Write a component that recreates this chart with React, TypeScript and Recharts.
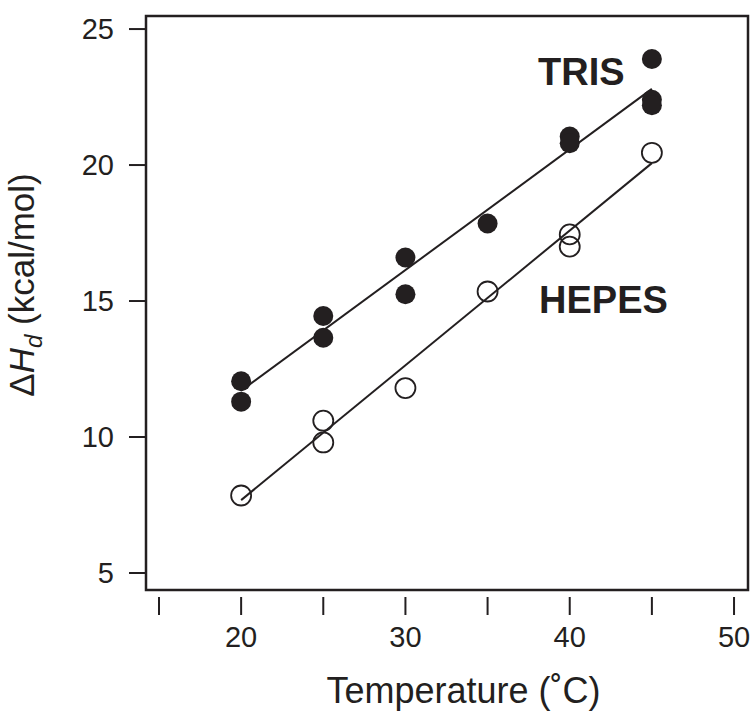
import React from 'react';
import { ComposedChart, Scatter, Line, XAxis, YAxis, ReferenceArea, ReferenceDot } from 'recharts';

const trisT = [20, 20, 25, 25, 30, 30, 35, 40, 40, 45, 45, 45];
const trisH = [12.05, 11.3, 14.45, 13.65, 16.6, 15.25, 17.85, 21.05, 20.8, 23.9, 22.4, 22.2];
const hepesT = [20, 25, 25, 30, 35, 40, 40, 45];
const hepesH = [7.85, 10.6, 9.8, 11.8, 15.35, 17.45, 17.0, 20.45];
const fitT = [20, 45];
const trisFitH = [11.7, 22.8];
const hepesFitH = [7.68, 20.07];
const xTicks = [15, 20, 25, 30, 35, 40, 45, 50];
const xTickLabels: Record<number, string> = { 20: '20', 30: '30', 40: '40', 50: '50' };
const yTicks = [5, 10, 15, 20, 25];

const INK = '#231f20';
const FONT = '"Liberation Sans", Arial, Helvetica, sans-serif';
const X_DOMAIN: [number, number] = [14.21, 50.85];
const Y_DOMAIN: [number, number] = [4.375, 25.48];

const trisData = trisT.map((t, i) => ({ x: t, y: trisH[i] }));
const hepesData = hepesT.map((t, i) => ({ x: t, y: hepesH[i] }));
const trisFit = fitT.map((t, i) => ({ x: t, y: trisFitH[i] }));
const hepesFit = fitT.map((t, i) => ({ x: t, y: hepesFitH[i] }));

function XTick(props: any) {
  const { x, y, payload } = props;
  const label = xTickLabels[payload.value] || '';
  return (
    <g>
      <line x1={x} x2={x} y1={y + 7} y2={y + 25} stroke={INK} strokeWidth={2} />
      {label && (
        <text x={x} y={y + 57} textAnchor="middle" fontSize={29} fontFamily={FONT} fill={INK}>
          {label}
        </text>
      )}
    </g>
  );
}

function FilledDot(props: any) {
  const { cx, cy } = props;
  return <circle cx={cx} cy={cy} r={10} fill={INK} />;
}

function OpenDot(props: any) {
  const { cx, cy } = props;
  return <circle cx={cx} cy={cy} r={10} fill="none" stroke={INK} strokeWidth={1.8} />;
}

function YLabel() {
  const cx = 34;
  const cy = 285;
  return (
    <text
      x={cx}
      y={cy}
      transform={`rotate(-90 ${cx} ${cy})`}
      textAnchor="middle"
      fontSize={35}
      fontFamily={FONT}
      fill={INK}
    >
      <tspan>Δ</tspan>
      <tspan fontStyle="italic">H</tspan>
      <tspan fontStyle="italic" fontSize={24} dy={8}>d</tspan>
      <tspan dy={-8}> (kcal/mol)</tspan>
    </text>
  );
}

function XLabel() {
  return (
    <text x={463.5} y={703} textAnchor="middle" fontSize={36} fontFamily={FONT} fill={INK}>
      Temperature (˚C)
    </text>
  );
}

export default function App() {
  return (
    <div style={{ position: 'absolute', left: 0, top: 0, width: 750, height: 712, background: '#fff' }}>
      <ComposedChart width={750} height={712} margin={{ top: 16, right: 2, bottom: 0, left: 0 }}>
        <XAxis
          type="number"
          dataKey="x"
          domain={X_DOMAIN}
          ticks={xTicks}
          allowDataOverflow
          height={122}
          axisLine={false}
          tickLine={false}
          tickSize={0}
          tickMargin={0}
          tick={<XTick />}
          interval={0}
          label={<XLabel />}
        />
        <YAxis
          type="number"
          dataKey="y"
          domain={Y_DOMAIN}
          ticks={yTicks}
          allowDataOverflow
          width={146}
          axisLine={false}
          tickSize={17}
          tickMargin={15}
          tickLine={{ stroke: INK, strokeWidth: 2 }}
          tick={{ fontSize: 29, fontFamily: FONT, fill: INK }}
          interval={0}
          label={<YLabel />}
        />
        <ReferenceArea
          x1={X_DOMAIN[0]}
          x2={X_DOMAIN[1]}
          y1={Y_DOMAIN[0]}
          y2={Y_DOMAIN[1]}
          fill="none"
          fillOpacity={0}
          stroke={INK}
          strokeWidth={2.5}
        />
        <Line data={trisFit} dataKey="y" stroke={INK} strokeWidth={2} dot={false} isAnimationActive={false} />
        <Line data={hepesFit} dataKey="y" stroke={INK} strokeWidth={2} dot={false} isAnimationActive={false} />
        <Scatter data={trisData} dataKey="y" shape={<FilledDot />} isAnimationActive={false} />
        <Scatter data={hepesData} dataKey="y" shape={<OpenDot />} isAnimationActive={false} />
        <ReferenceDot
          x={40.71}
          y={23.44}
          r={0}
          fill="none"
          stroke="none"
          label={{ value: 'TRIS', position: 'center', fontSize: 38, fontWeight: 'bold', fill: INK, fontFamily: FONT }}
        />
        <ReferenceDot
          x={42.05}
          y={15.06}
          r={0}
          fill="none"
          stroke="none"
          label={{ value: 'HEPES', position: 'center', fontSize: 38, fontWeight: 'bold', fill: INK, fontFamily: FONT }}
        />
      </ComposedChart>
    </div>
  );
}
